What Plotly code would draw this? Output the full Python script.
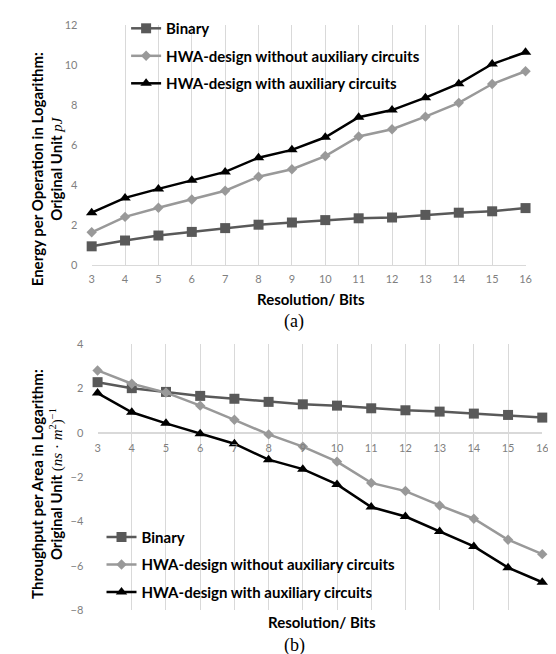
import plotly.graph_objects as go

bits = [3, 4, 5, 6, 7, 8, 9, 10, 11, 12, 13, 14, 15, 16]

energy_binary = [0.93, 1.22, 1.47, 1.65, 1.84, 2.01, 2.12, 2.24, 2.33, 2.37, 2.50, 2.61, 2.68, 2.84]
energy_without = [1.63, 2.40, 2.86, 3.27, 3.71, 4.41, 4.78, 5.44, 6.42, 6.78, 7.41, 8.10, 9.04, 9.68]
energy_with = [2.61, 3.35, 3.80, 4.23, 4.65, 5.36, 5.75, 6.38, 7.38, 7.74, 8.36, 9.06, 10.04, 10.63]

tp_binary = [2.29, 2.02, 1.85, 1.67, 1.54, 1.40, 1.29, 1.23, 1.11, 1.02, 0.96, 0.87, 0.81, 0.69]
tp_without = [2.82, 2.22, 1.82, 1.23, 0.59, -0.07, -0.62, -1.30, -2.26, -2.63, -3.28, -3.88, -4.83, -5.48]
tp_with = [1.80, 0.93, 0.43, -0.04, -0.49, -1.21, -1.64, -2.33, -3.35, -3.78, -4.46, -5.13, -6.09, -6.75]

series_names = ["Binary", "HWA-design without auxiliary circuits", "HWA-design with auxiliary circuits"]
top_ticks = [0, 2, 4, 6, 8, 10, 12]
bottom_ticks = [-8, -6, -4, -2, 0, 2, 4]

W, H = 556, 654
def px_x(p): return p / W
def px_y(p): return 1 - p / H

styles = [
    dict(color="#595959", symbol="square", size=10, lw=2.5),
    dict(color="#999999", symbol="diamond", size=8, lw=2.5),
    dict(color="#000000", symbol="triangle-up", size=10, lw=2.5),
]

FONT = "Lato, 'Open Sans', sans-serif"
fig = go.Figure()

for name, ys, st in zip(series_names, [energy_binary, energy_without, energy_with], styles):
    fig.add_trace(go.Scatter(
        x=bits, y=ys, name=name, mode="lines+markers", xaxis="x", yaxis="y",
        line=dict(color=st["color"], width=st["lw"]),
        marker=dict(symbol=st["symbol"], size=st["size"], color=st["color"]),
        cliponaxis=False, legend="legend", legendgroup="a" + name,
    ))

for name, ys, st in zip(series_names, [tp_binary, tp_without, tp_with], styles):
    fig.add_trace(go.Scatter(
        x=bits, y=ys, name=name, mode="lines+markers", xaxis="x2", yaxis="y2",
        line=dict(color=st["color"], width=st["lw"]),
        marker=dict(symbol=st["symbol"], size=st["size"], color=st["color"]),
        cliponaxis=False, legend="legend2", legendgroup="b" + name,
    ))

tickfont = dict(family=FONT, size=11, color="#7f7f7f")
grid = "#d9d9d9"

top_y0, top_y1 = 10, 255
bot_y0, bot_y1 = 336, 607
zero_bot = bot_y0 + (bot_y1 - bot_y0) * 4 / 12

legfont = dict(family=FONT, size=15, color="#000000", weight="bold")

fig.update_layout(
    width=W, height=H,
    margin=dict(l=0, r=0, t=0, b=0),
    paper_bgcolor="white", plot_bgcolor="white",
    showlegend=True,
    xaxis=dict(domain=[px_x(82), px_x(523)], range=[3, 16], anchor="y",
               tickvals=bits, ticktext=[str(b) for b in bits], tickfont=tickfont,
               showgrid=True, gridcolor=grid, gridwidth=1,
               showline=True, linecolor=grid, linewidth=1,
               ticks="outside", ticklen=4, tickcolor="rgba(0,0,0,0)", zeroline=False),
    yaxis=dict(domain=[px_y(top_y1), px_y(top_y0)], range=[0, 12], anchor="x",
               tickvals=top_ticks, tickfont=tickfont, showgrid=False, zeroline=False,
               ticks="outside", ticklen=11, tickcolor="rgba(0,0,0,0)"),
    xaxis2=dict(domain=[px_x(88), px_x(540)], range=[3, 16], anchor="free",
                position=px_y(zero_bot),
                tickvals=bits, ticktext=[str(b) for b in bits], tickfont=tickfont,
                showgrid=True, gridcolor=grid, gridwidth=1, showline=False,
                ticks="outside", ticklen=5, tickcolor="rgba(0,0,0,0)", zeroline=False),
    yaxis2=dict(domain=[px_y(bot_y1), px_y(bot_y0)], range=[-8, 4], anchor="x2",
                tickvals=bottom_ticks, tickfont=tickfont, showgrid=False,
                zeroline=True, zerolinecolor=grid, zerolinewidth=1.5,
                ticks="outside", ticklen=11, tickcolor="rgba(0,0,0,0)"),
    legend=dict(x=px_x(117), y=px_y(-3), xanchor="left", yanchor="top",
                bgcolor="rgba(0,0,0,0)", traceorder="grouped", tracegroupgap=5,
                font=legfont),
    legend2=dict(x=px_x(92), y=px_y(516), xanchor="left", yanchor="top",
                 bgcolor="rgba(0,0,0,0)", traceorder="grouped", tracegroupgap=5,
                 font=legfont),
)

serif = "font-family:'Liberation Serif',serif;font-weight:normal"
annots = [
    dict(text="Energy per Operation in Logarithm:<br>Original Unit <span style=\"" + serif + "\"><i>pJ</i></span>",
         x=px_x(36), y=px_y(157), textangle=-90),
    dict(text="Throughput per Area in Logarithm:<br>Original Unit <span style=\"" + serif + "\">(<i>ns</i> · <i>m</i><sup>2</sup>)<sup>−1</sup></span>",
         x=px_x(37), y=px_y(478), textangle=-90),
    dict(text="Resolution/ Bits", x=px_x(305), y=px_y(290)),
    dict(text="Resolution/ Bits", x=px_x(316), y=px_y(619)),
]
for a in annots:
    fig.add_annotation(xref="paper", yref="paper", showarrow=False, xanchor="center", yanchor="middle",
                       font=dict(family=FONT, size=15, color="#000000", weight="bold"), **a)

for txt, yy in [("(a)", 313), ("(b)", 643)]:
    fig.add_annotation(xref="paper", yref="paper", showarrow=False, xanchor="center", yanchor="middle",
                       text=txt, x=px_x(288), y=px_y(yy),
                       font=dict(family="'Liberation Serif', serif", size=18, color="#000000"))

fig.write_html("out.html")
